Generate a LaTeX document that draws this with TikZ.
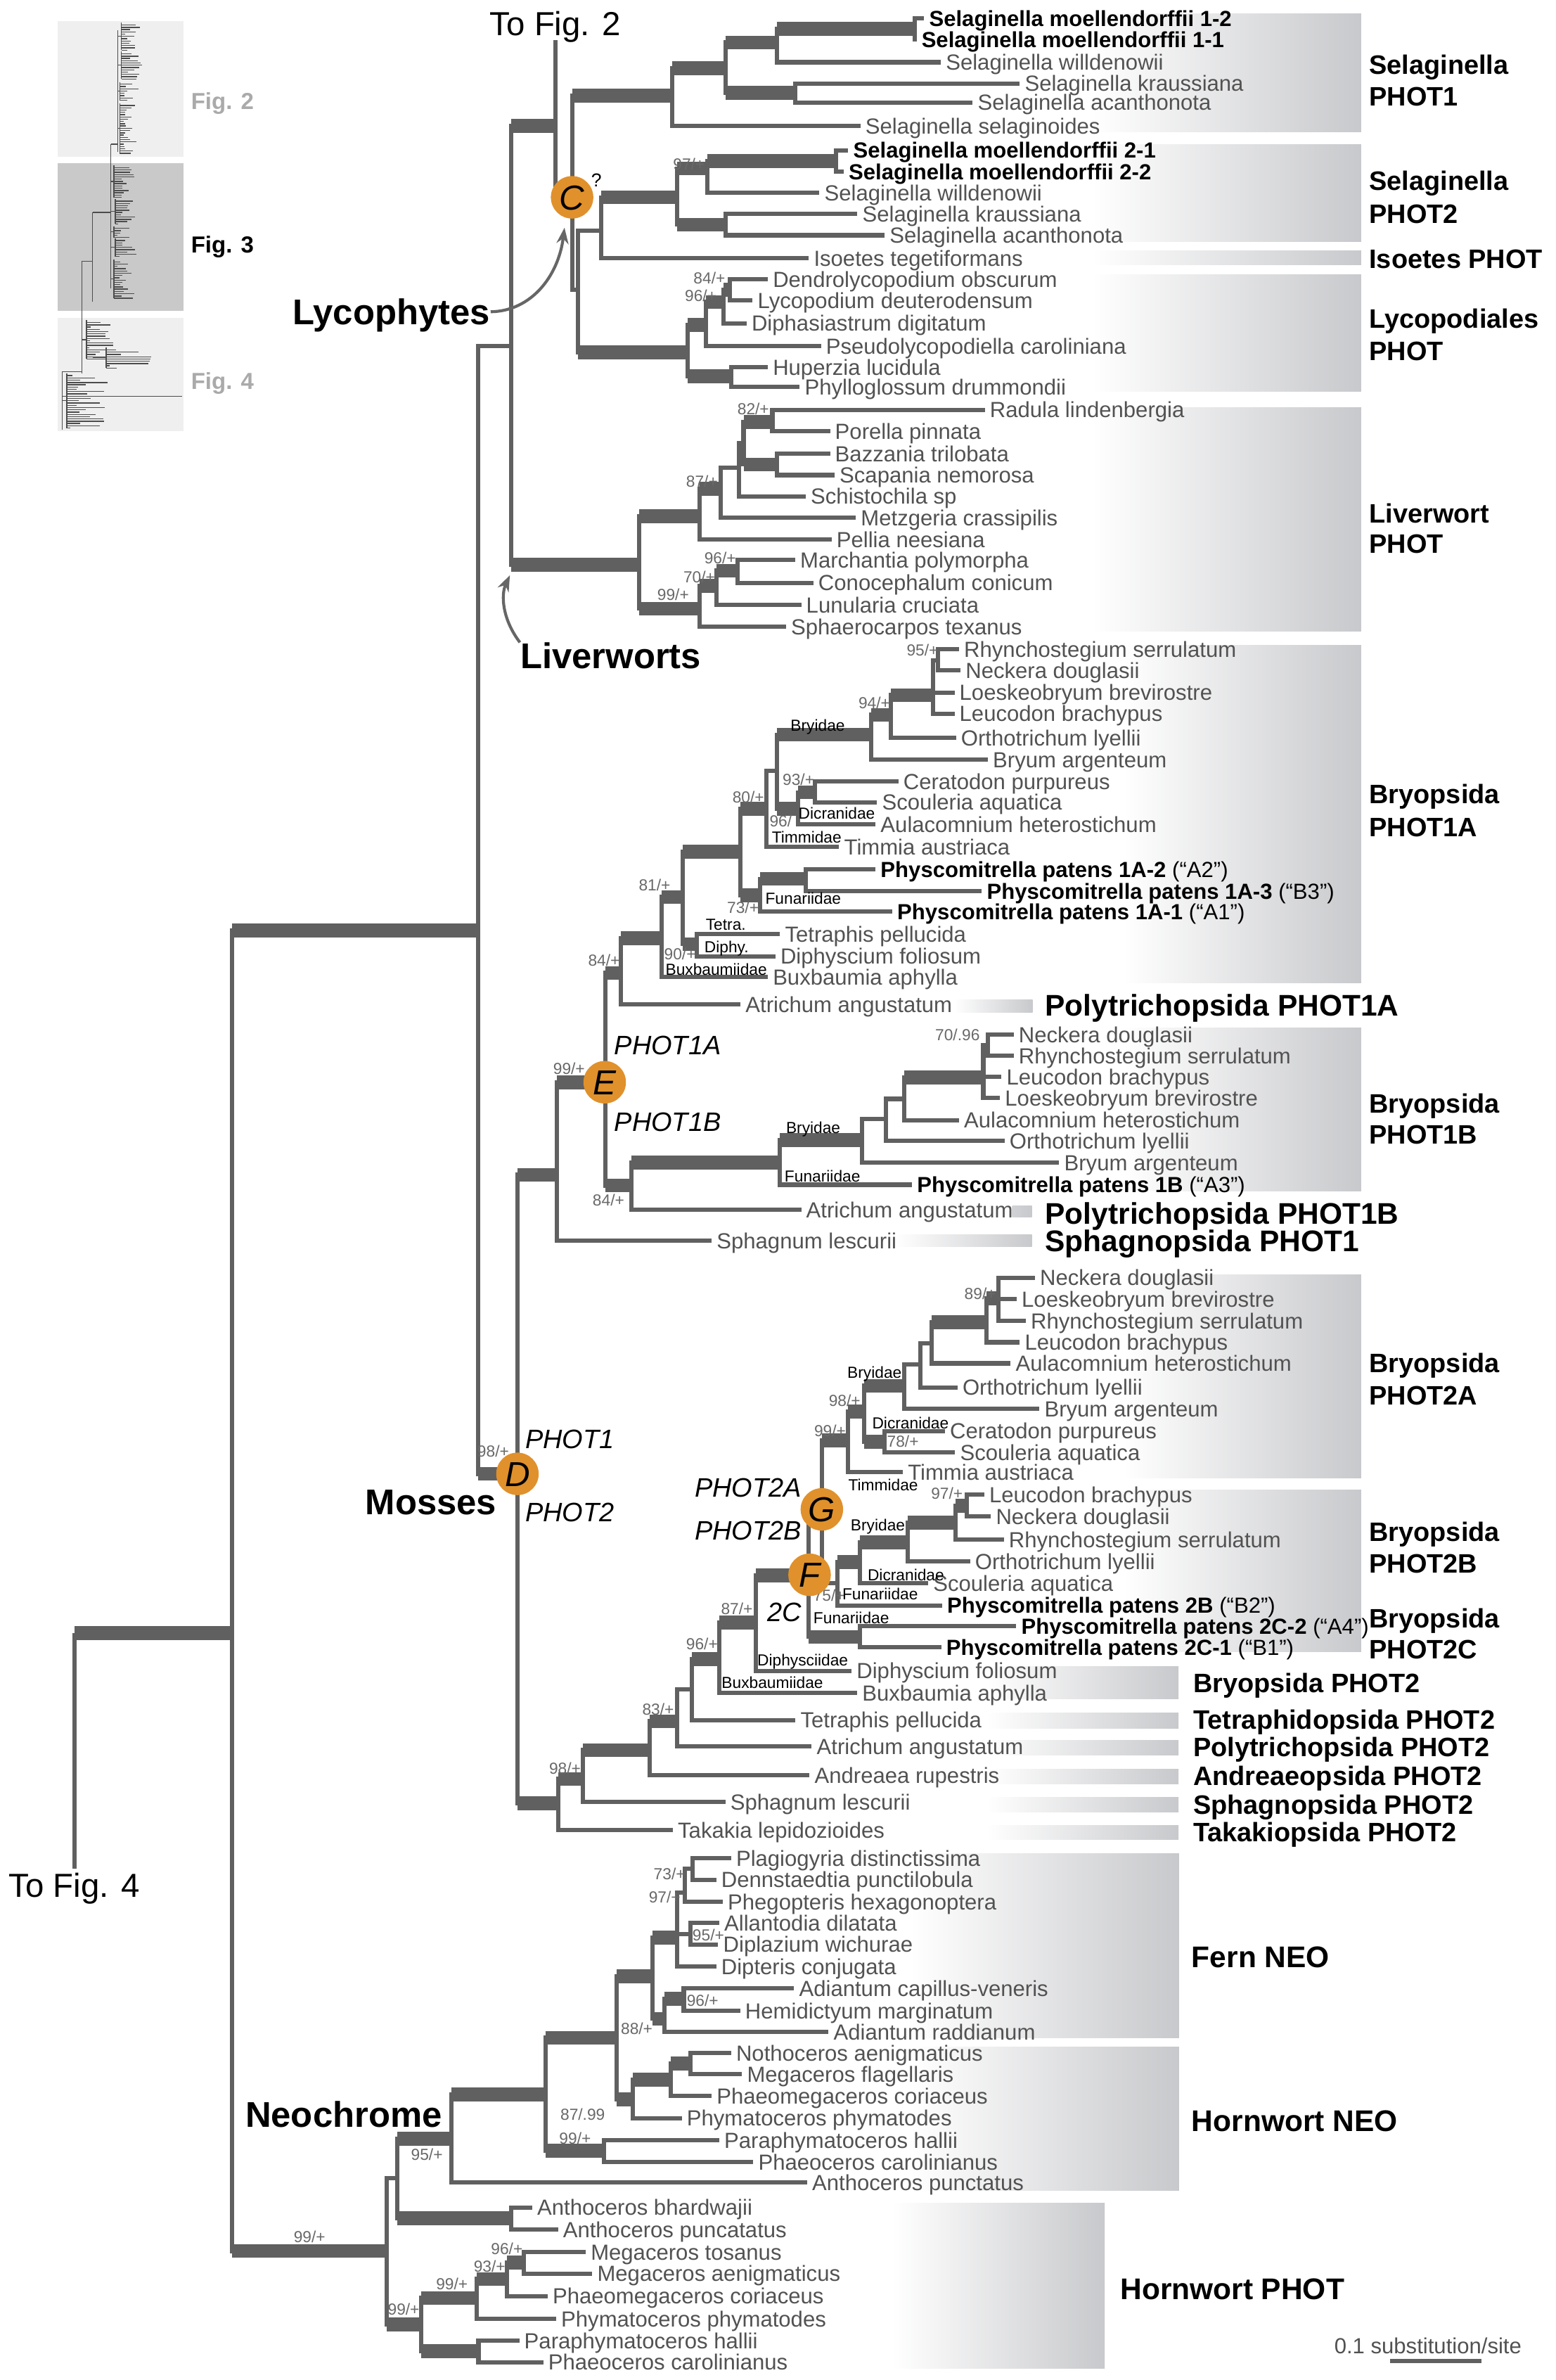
\documentclass[tikz,border=0pt]{standalone}
\usepackage{fontspec}
\setmainfont{Liberation Sans}
\usetikzlibrary{arrows.meta}
\definecolor{lc}{RGB}{96,96,96}
\definecolor{tc}{RGB}{82,82,82}
\definecolor{sc}{RGB}{105,105,105}
\definecolor{boxg}{RGB}{200,201,204}
\definecolor{orng}{RGB}{224,145,44}
\definecolor{thg}{RGB}{239,239,239}
\definecolor{thd}{RGB}{201,201,201}
\definecolor{figg}{RGB}{170,170,170}
\newcommand\tnode[5]{\coordinate (#1) at (#3,#4);\draw[br] (#2) |- (#1);\draw[#5] (#2 |- #1) -- (#1);}
\newcommand\tleaf[6]{\node[#5] (#1) at (#3,#4) {#6};\draw[br] (#2) |- (#1.west);}
\newcommand\sv[4]{\node[sup] (#1) at (#2,#3) {#4};}
\newcommand\cla[4]{\node[cl] (#1) at (#2,#3) {#4};}
\tikzset{
 br/.style={draw=lc, line width=1.6pt},
 thk/.style={draw=lc, line width=5.2pt},
 tx/.style={anchor=west, inner xsep=1.7pt, inner ysep=0pt, text=tc, font=\fontsize{8.2}{9.8}\selectfont, text height=5.9pt, text depth=0pt},
 txb/.style={tx, text=black, font=\fontsize{8.2}{9.8}\selectfont\bfseries},
 sup/.style={inner sep=0pt, text=sc, font=\fontsize{6}{7}\selectfont, text height=4.3pt, text depth=0pt},
 cl/.style={inner sep=0pt, text=black, font=\fontsize{6}{7}\selectfont, text height=4.3pt, text depth=0pt},
 grp/.style={anchor=west, inner sep=0pt, font=\fontsize{10}{12}\selectfont\bfseries, text height=7.2pt, text depth=0pt},
 grpl/.style={grp, font=\fontsize{11.2}{13}\selectfont\bfseries, text height=8pt},
 big/.style={inner sep=0pt, font=\fontsize{13.4}{15}\selectfont\bfseries, text height=9.6pt, text depth=0pt},
 ital/.style={inner sep=0pt, font=\fontsize{10}{12}\selectfont\itshape, text height=7.2pt, text depth=0pt},
 tofig/.style={inner xsep=0pt, inner ysep=1.5pt, font=\fontsize{12.5}{14}\selectfont, text height=9pt, text depth=0pt},
 circ/.style={circle, fill=orng, minimum size=0.56cm, inner sep=0pt, font=\fontsize{13}{14}\selectfont\itshape, text height=9.3pt, text depth=0pt},
 bx/.style={left color=white, right color=boxg},
 thm/.style={draw=black!70, line width=0.35pt},
 figl/.style={anchor=west, inner sep=0pt, font=\fontsize{8.7}{10}\selectfont\bfseries, text height=6.3pt, text depth=0pt},
 arr/.style={draw=black!60, line width=1.1pt, -{Stealth[length=6pt,width=4.5pt]}}
}
\begin{document}
\begin{tikzpicture}[x=0.02cm, y=-0.02cm]
\useasboundingbox (0,0) rectangle (1025,1568);
\fill[white] (0,0) rectangle (1025,1568);
% ---------- gradient boxes ----------
\shade[bx] (720,9.1) rectangle (897,86.8);
\shade[bx] (720,95) rectangle (897,159);
\shade[bx] (720,165.4) rectangle (897,174.5);
\shade[bx] (720,181) rectangle (897,257.7);
\shade[bx] (720,268.5) rectangle (897,416);
\shade[bx] (740,425) rectangle (897,647.6);
\shade[bx] (629,658.5) rectangle (680.5,667);
\shade[bx] (740,677) rectangle (897,784.5);
\begin{scope}
\clip (667,790) rectangle (681,806);
\shade[bx] (600,794.5) rectangle (680,802);
\end{scope}
\shade[bx] (590,813.5) rectangle (680,821.5);
\shade[bx] (740,839.7) rectangle (897,973.6);
\shade[bx] (740,981.6) rectangle (897,1088.4);
\shade[bx] (650,1097.7) rectangle (776.6,1119.3);
\shade[bx] (650,1128.5) rectangle (776.6,1138.5);
\shade[bx] (650,1146.5) rectangle (776.6,1156.5);
\shade[bx] (650,1165.5) rectangle (776.6,1175.5);
\shade[bx] (650,1184) rectangle (776.6,1194);
\shade[bx] (650,1202.5) rectangle (776.6,1212);
\shade[bx] (600,1221.2) rectangle (777,1342.5);
\shade[bx] (600,1348.7) rectangle (777,1443);
\shade[bx] (588,1451.5) rectangle (728,1560.5);
% ---------- thumbnail ----------
\fill[thg] (38,14) rectangle (121,103.5);
\fill[thd] (38,107.6) rectangle (121,205);
\fill[thg] (38,209.6) rectangle (121,284);
\pgfmathsetseed{11}
\draw[thm] (77.5,20) -- (77.5,100) (73,95) -- (73,190) (73,95) -- (77.5,95);
\draw[thm] (61,140) -- (61,199) (61,140) -- (73,140);
\draw[thm] (54,172) -- (54,246) (54,172) -- (61,172);
\draw[thm] (41,245) -- (41,283) (41,245) -- (54,245);
\foreach \ys/\n/\sx/\bx/\ml in {15/12/77.5/80/11, 34/12/77.5/80/13, 54/8/77.5/79/11, 68/22/77.5/79/10, 109/14/73/75/14, 131/11/73/76/12, 149/5/73/75/10, 157/8/73/76/14, 171/17/73/75/12, 211/17/54/57/20, 229/9/61/70/28, 246/24/41/44/28}{
 \pgfmathsetmacro{\ye}{\ys+1.5*\n}
 \pgfmathsetmacro{\ym}{\ys+0.75*\n}
 \draw[thm] (\bx,\ys) -- (\bx,\ye) (\sx,\ym) -- (\bx,\ym);
 \foreach \k in {1,...,\n}{
  \pgfmathsetmacro{\yy}{\ys+1.5*\k}
  \pgfmathsetmacro{\xe}{\bx+2+\ml*rnd}
  \draw[thm] (\bx,\yy) -- (\xe,\yy);}}
\draw[thm] (41,261) -- (120,261);
\node[figl, text=figg] (fig2) at (125.6,66.7) {Fig. 2};
\node[figl, text=black] (fig3) at (125.6,161) {Fig. 3};
\node[figl, text=figg] (fig4) at (125.6,251) {Fig. 4};
% ---------- backbone ----------
\coordinate (root) at (49,1076);
\node[tofig] (tf4) at (49,1242) {To Fig. 4};
\draw[br] (tf4.north) -- (root);
\tnode{A0}{root}{153}{1076}{thk}
\tnode{B0}{A0}{315}{613}{thk}
\tnode{B1}{B0}{337}{228}{br}
\tnode{N1}{B1}{366}{83}{thk}
\node[tofig] (tf2) at (366,15.7) {To Fig. 2};
\draw[br] (N1) -- (tf2.south);
% ---------- lycophytes ----------
\tnode{Cn}{N1}{377}{130}{br}
\tnode{sa}{Cn}{443}{63}{thk}
\tnode{sb}{sa}{478}{45}{thk}
\tnode{sc}{sb}{512}{28}{thk}
\tnode{sm1}{sc}{603}{19}{thk}
\tleaf{t1}{sm1}{609}{12}{txb}{Selaginella moellendorffii 1-2}
\tleaf{t2}{sm1}{604}{26}{txb}{Selaginella moellendorffii 1-1}
\tleaf{t3}{sc}{620}{41}{tx}{Selaginella willdenowii}
\tnode{sd}{sb}{524}{61}{thk}
\tleaf{t4}{sd}{672}{55}{tx}{Selaginella kraussiana}
\tleaf{t5}{sd}{641}{67.5}{tx}{Selaginella acanthonota}
\tleaf{t6}{sa}{567}{83}{tx}{Selaginella selaginoides}
\tnode{sX}{Cn}{381}{191}{br}
\tnode{sY}{sX}{396}{152}{br}
\tnode{se}{sY}{446}{130}{thk}
\tnode{sf}{se}{466}{111}{thk}
\tnode{sm2}{sf}{551}{106}{thk}
\tleaf{t7}{sm2}{559}{99}{txb}{Selaginella moellendorffii 2-1}
\tleaf{t8}{sm2}{556}{113}{txb}{Selaginella moellendorffii 2-2}
\tleaf{t9}{sf}{540}{127}{tx}{Selaginella willdenowii}
\tnode{sg}{se}{478}{148}{thk}
\tleaf{t10}{sg}{565}{141}{tx}{Selaginella kraussiana}
\tleaf{t11}{sg}{583}{155}{tx}{Selaginella acanthonota}
\tleaf{t12}{sY}{533}{170}{tx}{Isoetes tegetiformans}
\tnode{ly}{sX}{453}{232}{thk}
\tnode{lh}{ly}{465}{214}{thk}
\tnode{li}{lh}{477}{199}{thk}
\tnode{lj}{li}{481}{191}{thk}
\tleaf{t13}{lj}{506}{184}{tx}{Dendrolycopodium obscurum}
\tleaf{t14}{lj}{496}{198}{tx}{Lycopodium deuterodensum}
\tleaf{t15}{li}{492}{213}{tx}{Diphasiastrum digitatum}
\tleaf{t16}{lh}{541}{228}{tx}{Pseudolycopodiella caroliniana}
\tnode{lk}{ly}{482}{248}{thk}
\tleaf{t17}{lk}{506}{242}{tx}{Huperzia lucidula}
\tleaf{t18}{lk}{527}{255}{tx}{Phylloglossum drummondii}
\sv{s1}{454}{108}{97/+}
\sv{s2}{467.5}{183}{84/+}
\sv{s3}{461.8}{194.7}{96/+}
% ---------- liverworts ----------
\tnode{LV}{B1}{421}{372}{thk}
\tnode{lM}{LV}{461}{340}{thk}
\tnode{lO}{lM}{475}{322}{thk}
\tnode{lP}{lO}{487}{308}{br}
\tnode{lP2}{lP}{490}{292}{br}
\tnode{lQ}{lP2}{509}{278}{thk}
\tleaf{u1}{lQ}{649}{270}{tx}{Radula lindenbergia}
\tleaf{u2}{lQ}{547}{284}{tx}{Porella pinnata}
\tnode{lR}{lP2}{512}{306}{thk}
\tleaf{u3}{lR}{547}{299}{tx}{Bazzania trilobata}
\tleaf{u4}{lR}{550}{313}{tx}{Scapania nemorosa}
\tleaf{u5}{lP}{531}{327}{tx}{Schistochila sp}
\tleaf{u6}{lO}{564}{341}{tx}{Metzgeria crassipilis}
\tleaf{u7}{lM}{548}{355.5}{tx}{Pellia neesiana}
\tnode{lN}{LV}{461}{401}{thk}
\tnode{lS}{lN}{472}{386}{thk}
\tnode{lT}{lS}{486}{376}{thk}
\tleaf{u8}{lT}{524}{369}{tx}{Marchantia polymorpha}
\tleaf{u9}{lT}{536}{384}{tx}{Conocephalum conicum}
\tleaf{u10}{lS}{528}{398.6}{tx}{Lunularia cruciata}
\tleaf{u11}{lN}{518}{413}{tx}{Sphaerocarpos texanus}
\sv{s4}{496.4}{269.3}{82/+}
\sv{s5}{462.6}{317.3}{87/+}
\sv{s6}{474.6}{367.4}{96/+}
\sv{s7}{460.8}{380.1}{70/+}
\sv{s8}{443.6}{391.7}{99/+}
% ---------- mosses PHOT1 ----------
\tnode{Dn}{B0}{341}{971}{thk}
\tnode{P1}{Dn}{367}{774}{thk}
\tnode{En}{P1}{399}{713}{thk}
\tnode{ma}{En}{409}{641}{thk}
\tnode{mb}{ma}{436}{618}{thk}
\tnode{mg}{mb}{450}{591}{thk}
\tnode{me}{mg}{488}{561}{thk}
\tnode{mz}{me}{505}{533}{thk}
\tnode{mz2}{mz}{512}{508}{br}
\tnode{mi}{mz2}{574}{484}{thk}
\tnode{mmu}{mi}{587}{471}{thk}
\tnode{mnu}{mmu}{615}{458}{thk}
\tnode{mxi}{mnu}{618}{435}{br}
\tleaf{v1}{mxi}{632}{427.6}{tx}{Rhynchostegium serrulatum}
\tleaf{v2}{mxi}{633}{441.7}{tx}{Neckera douglasii}
\tleaf{v3}{mnu}{629}{456.3}{tx}{Loeskeobryum brevirostre}
\tleaf{v4}{mnu}{629}{470.2}{tx}{Leucodon brachypus}
\tleaf{v5}{mmu}{630}{486}{tx}{Orthotrichum lyellii}
\tleaf{v6}{mi}{651}{500.4}{tx}{Bryum argenteum}
\tnode{mk}{mz2}{526}{533}{thk}
\tnode{ml}{mk}{537}{522}{thk}
\tleaf{v7}{ml}{592}{514.8}{tx}{Ceratodon purpureus}
\tleaf{v8}{ml}{578}{528.5}{tx}{Scouleria aquatica}
\tleaf{v9}{mk}{577}{543}{tx}{Aulacomnium heterostichum}
\tleaf{v10}{mz}{553}{557.8}{tx}{Timmia austriaca}
\tnode{mh}{me}{501}{590}{thk}
\tnode{mth}{mh}{531}{579}{thk}
\tleaf{v11}{mth}{577}{572.7}{txb}{Physcomitrella patens 1A-2 {\mdseries (“A2”)}}
\tleaf{v12}{mth}{647}{587}{txb}{Physcomitrella patens 1A-3 {\mdseries (“B3”)}}
\tleaf{v13}{mh}{588}{600.5}{txb}{Physcomitrella patens 1A-1 {\mdseries (“A1”)}}
\tnode{mtd}{mg}{459}{622}{thk}
\tleaf{v14}{mtd}{514}{615.4}{tx}{Tetraphis pellucida}
\tleaf{v15}{mtd}{511}{630}{tx}{Diphyscium foliosum}
\tleaf{v16}{mb}{506}{643.8}{tx}{Buxbaumia aphylla}
\tleaf{v17}{ma}{488}{661.7}{tx}{Atrichum angustatum}
\sv{s9}{607.9}{428.5}{95/+}
\sv{s10}{576.2}{463.2}{94/+}
\sv{s11}{526.2}{513.7}{93/+}
\sv{s12}{493.1}{525.2}{80/+}
\sv{s13}{514.5}{541}{96/}
\sv{s14}{431.4}{583.1}{81/+}
\sv{s15}{489.6}{598}{73/+}
\sv{s16}{448.1}{628.6}{90/+}
\sv{s17}{398}{632.7}{84/+}
\cla{c1}{538.9}{477.8}{Bryidae}
\cla{c2}{551.4}{536}{Dicranidae}
\cla{c3}{531.6}{551.7}{Timmidae}
\cla{c4}{529.3}{591.9}{Funariidae}
\cla{c5}{478.3}{608.8}{Tetra.}
\cla{c6}{478.8}{623.7}{Diphy.}
\cla{c7}{472}{638.5}{Buxbaumiidae}
% PHOT1B
\tnode{mo}{En}{416}{781}{thk}
\tnode{mpi}{mo}{514}{766}{thk}
\tnode{mrho}{mpi}{568}{751}{thk}
\tnode{msig}{mrho}{584}{737}{br}
\tnode{mtau}{msig}{596}{724}{br}
\tnode{mups}{mtau}{648}{710}{thk}
\tnode{mups2}{mups}{651}{688.6}{br}
\tleaf{w1}{mups2}{668}{681.7}{tx}{Neckera douglasii}
\tleaf{w2}{mups2}{668}{695.6}{tx}{Rhynchostegium serrulatum}
\tleaf{w3}{mups}{660}{709.5}{tx}{Leucodon brachypus}
\tleaf{w4}{mups}{659}{723.4}{tx}{Loeskeobryum brevirostre}
\tleaf{w5}{mtau}{632}{738}{tx}{Aulacomnium heterostichum}
\tleaf{w6}{msig}{662}{751.6}{tx}{Orthotrichum lyellii}
\tleaf{w7}{mrho}{698}{766}{tx}{Bryum argenteum}
\tleaf{w8}{mpi}{601}{780.5}{txb}{Physcomitrella patens 1B {\mdseries (“A3”)}}
\tleaf{w9}{mo}{528}{797}{tx}{Atrichum angustatum}
\tleaf{w10}{P1}{469}{817.5}{tx}{Sphagnum lescurii}
\sv{s18}{631}{681.7}{70/.96}
\sv{s19}{375}{704}{99/+}
\sv{s20}{401}{790.5}{84/+}
\cla{c8}{535.9}{742.7}{Bryidae}
\cla{c9}{542}{775}{Funariidae}
% ---------- mosses PHOT2 ----------
\tnode{P2}{Dn}{368}{1188}{thk}
\tnode{qS}{P2}{384}{1172}{thk}
\tnode{qA}{qS}{428}{1153}{thk}
\tnode{q83}{qA}{446}{1134}{thk}
\tnode{qT}{q83}{456}{1113}{br}
\tnode{q96}{qT}{474}{1093}{thk}
\tnode{q87}{q96}{498}{1069}{thk}
\tnode{Fn}{q87}{533}{1038}{thk}
\tnode{Gn}{Fn}{541.6}{996}{br}
\tnode{r99}{Gn}{558.6}{949}{thk}
\tnode{r98}{r99}{569.6}{930}{thk}
\tnode{rB}{r98}{596}{913}{thk}
\tnode{rX}{rB}{606.5}{899}{br}
\tnode{rW}{rX}{614}{885}{br}
\tnode{rV}{rW}{650}{871}{thk}
\tnode{r89}{rV}{658}{855.5}{thk}
\tleaf{x1}{r89}{682}{841.7}{tx}{Neckera douglasii}
\tleaf{x2}{r89}{670}{856}{tx}{Loeskeobryum brevirostre}
\tleaf{x3}{r89}{676}{870.3}{tx}{Rhynchostegium serrulatum}
\tleaf{x4}{rV}{672}{884.3}{tx}{Leucodon brachypus}
\tleaf{x5}{rW}{666}{898.2}{tx}{Aulacomnium heterostichum}
\tleaf{x6}{rX}{631}{914.1}{tx}{Orthotrichum lyellii}
\tleaf{x7}{rB}{685}{928.2}{tx}{Bryum argenteum}
\tnode{rD}{r98}{583}{950}{thk}
\tleaf{x8}{rD}{622.7}{942.8}{tx}{Ceratodon purpureus}
\tleaf{x9}{rD}{629.4}{956.9}{tx}{Scouleria aquatica}
\tleaf{x10}{r99}{595}{970}{tx}{Timmia austriaca}
\tnode{r2B}{Gn}{552}{1043}{br}
\tnode{r566}{r2B}{566.7}{1029}{thk}
\tnode{rB2}{r566}{598}{1016}{thk}
\tnode{r629}{rB2}{629.5}{1003}{thk}
\tnode{r97}{r629}{637}{992}{thk}
\tleaf{y1}{r97}{648.6}{984.8}{tx}{Leucodon brachypus}
\tleaf{y2}{r97}{653}{999.2}{tx}{Neckera douglasii}
\tleaf{y3}{r629}{661.5}{1014.3}{tx}{Rhynchostegium serrulatum}
\tleaf{y4}{rB2}{639.3}{1028.7}{tx}{Orthotrichum lyellii}
\tleaf{y5}{r566}{611.7}{1043}{tx}{Scouleria aquatica}
\tleaf{y6}{r2B}{620.9}{1057.7}{txb}{Physcomitrella patens 2B {\mdseries (“B2”)}}
\tnode{r2C}{Fn}{566.5}{1078.4}{thk}
\tleaf{y7}{r2C}{669.7}{1071.4}{txb}{Physcomitrella patens 2C-2 {\mdseries (“A4”)}}
\tleaf{y8}{r2C}{620.3}{1085.3}{txb}{Physcomitrella patens 2C-1 {\mdseries (“B1”)}}
\tleaf{y9}{q87}{561.2}{1100.8}{tx}{Diphyscium foliosum}
\tleaf{y10}{q96}{564.9}{1115.4}{tx}{Buxbaumia aphylla}
\tleaf{y11}{qT}{524.2}{1133.2}{tx}{Tetraphis pellucida}
\tleaf{y12}{q83}{534.9}{1150.5}{tx}{Atrichum angustatum}
\tleaf{y13}{qA}{533.5}{1169.5}{tx}{Andreaea rupestris}
\tleaf{y14}{qS}{478}{1187.2}{tx}{Sphagnum lescurii}
\tleaf{y15}{P2}{443.4}{1205.8}{tx}{Takakia lepidozioides}
\sv{s21}{325}{956}{98/+}
\sv{s22}{646}{852.4}{89/+}
\sv{s23}{556.6}{922.6}{98/+}
\sv{s24}{547}{942.5}{99/+}
\sv{s25}{595}{949.7}{78/+}
\sv{s26}{624}{984}{97/+}
\sv{s27}{546.4}{1051}{75/+}
\sv{s28}{485.6}{1060}{87/+}
\sv{s29}{462.6}{1083}{96/+}
\sv{s30}{433.7}{1126.3}{83/+}
\sv{s31}{372.3}{1164.9}{98/+}
\cla{c10}{576.3}{904.3}{Bryidae}
\cla{c11}{600}{937.7}{Dicranidae}
\cla{c12}{582}{978.4}{Timmidae}
\cla{c13}{578.5}{1004.7}{Bryidae}
\cla{c14}{597}{1037.4}{Dicranidae}
\cla{c15}{580}{1050}{Funariidae}
\cla{c16}{561}{1066}{Funariidae}
\cla{c17}{529}{1093.8}{Diphysciidae}
\cla{c18}{509}{1108.5}{Buxbaumiidae}
% ---------- neochrome + hornworts ----------
\tnode{HH}{A0}{254.8}{1483}{thk}
\tnode{NB}{HH}{262}{1435}{br}
\tnode{NEO}{NB}{297.4}{1409}{thk}
\tnode{n359}{NEO}{359.4}{1380}{thk}
\tnode{nFH}{n359}{406.5}{1342.5}{thk}
\tnode{nF}{nFH}{430}{1302}{thk}
\tnode{n446}{nF}{446.3}{1276.5}{thk}
\tnode{n97}{n446}{451.4}{1247}{br}
\tnode{n73}{n97}{456.6}{1231}{br}
\tleaf{z1}{n73}{481.8}{1224.3}{tx}{Plagiogyria distinctissima}
\tleaf{z2}{n73}{472}{1238.4}{tx}{Dennstaedtia punctilobula}
\tleaf{z3}{n97}{476.3}{1253.1}{tx}{Phegopteris hexagonoptera}
\tnode{n95}{n446}{455}{1274}{br}
\tleaf{z4}{n95}{474}{1267}{tx}{Allantodia dilatata}
\tleaf{z5}{n95}{473.3}{1281}{tx}{Diplazium wichurae}
\tleaf{z6}{n446}{472}{1295.7}{tx}{Dipteris conjugata}
\tnode{n88}{nF}{437.7}{1330}{thk}
\tnode{n96}{n88}{450.6}{1317}{thk}
\tleaf{z7}{n96}{523.3}{1310}{tx}{Adiantum capillus-veneris}
\tleaf{z8}{n96}{487.8}{1324.9}{tx}{Hemidictyum marginatum}
\tleaf{z9}{n88}{546}{1338.7}{tx}{Adiantum raddianum}
\tnode{nH}{nFH}{417}{1383}{thk}
\tnode{n442}{nH}{442}{1370}{thk}
\tnode{n455}{n442}{455}{1359.5}{thk}
\tleaf{z10}{n455}{481.8}{1352.5}{tx}{Nothoceros aenigmaticus}
\tleaf{z11}{n455}{489}{1366.4}{tx}{Megaceros flagellaris}
\tleaf{z12}{n442}{469}{1381}{tx}{Phaeomegaceros coriaceus}
\tleaf{z13}{nH}{449.3}{1395.5}{tx}{Phymatoceros phymatodes}
\tnode{n99}{n359}{398}{1417}{thk}
\tleaf{z14}{n99}{474}{1410.1}{tx}{Paraphymatoceros hallii}
\tleaf{z15}{n99}{496.4}{1424.3}{tx}{Phaeoceros carolinianus}
\tleaf{z16}{NEO}{531.9}{1437.8}{tx}{Anthoceros punctatus}
\tnode{nbh}{NB}{336.8}{1461.5}{thk}
\tleaf{h1}{nbh}{350.7}{1454.3}{tx}{Anthoceros bhardwajii}
\tleaf{h2}{nbh}{367.7}{1468.8}{tx}{Anthoceros puncatatus}
\tnode{h99}{HH}{277.4}{1531.5}{thk}
\tnode{h314}{h99}{314}{1514}{thk}
\tnode{h334}{h314}{334}{1501.5}{thk}
\tnode{h345}{h334}{345}{1490.7}{thk}
\tleaf{h3}{h345}{386}{1483.7}{tx}{Megaceros tosanus}
\tleaf{h4}{h345}{390.3}{1497.8}{tx}{Megaceros aenigmaticus}
\tleaf{h5}{h334}{360.9}{1512.7}{tx}{Phaeomegaceros coriaceus}
\tleaf{h6}{h314}{366.5}{1527.6}{tx}{Phymatoceros phymatodes}
\tnode{hPP}{h99}{315.3}{1549}{thk}
\tleaf{h7}{hPP}{342.2}{1542.2}{tx}{Paraphymatoceros hallii}
\tleaf{h8}{hPP}{358}{1556.3}{tx}{Phaeoceros carolinianus}
\sv{s32}{441.2}{1234.3}{73/+}
\sv{s33}{438}{1249.6}{97/+}
\sv{s34}{466.8}{1275}{95/+}
\sv{s35}{463}{1318}{96/+}
\sv{s36}{419.6}{1336.4}{88/+}
\sv{s37}{384}{1393.2}{87/.99}
\sv{s38}{379}{1408.6}{99/+}
\sv{s39}{281.3}{1419.3}{95/+}
\sv{s40}{204}{1473.5}{99/+}
\sv{s41}{334}{1481.3}{96/+}
\sv{s42}{322.6}{1493.1}{93/+}
\sv{s43}{297.8}{1504.8}{99/+}
\sv{s44}{266}{1521.3}{99/+}
% ---------- group labels ----------
\node[grp] (g1) at (902,42.7) {Selaginella};
\node[grp] (g1b) at (902,63.5) {PHOT1};
\node[grp] (g2) at (902,119) {Selaginella};
\node[grp] (g2b) at (902,140.6) {PHOT2};
\node[grp] (g3) at (902,170.4) {Isoetes PHOT};
\node[grp] (g4) at (902,210) {Lycopodiales};
\node[grp] (g4b) at (902,231) {PHOT};
\node[grp] (g5) at (902,338) {Liverwort};
\node[grp] (g5b) at (902,358) {PHOT};
\node[grp] (g6) at (902,523) {Bryopsida};
\node[grp] (g6b) at (902,545) {PHOT1A};
\node[grpl] (g7) at (688.5,662.5) {Polytrichopsida PHOT1A};
\node[grp] (g8) at (902,727) {Bryopsida};
\node[grp] (g8b) at (902,747.5) {PHOT1B};
\node[grpl] (g9) at (688.5,799.5) {Polytrichopsida PHOT1B};
\node[grpl] (g10) at (688.5,817.5) {Sphagnopsida PHOT1};
\node[grp] (g11) at (902,898) {Bryopsida};
\node[grp] (g11b) at (902,919) {PHOT2A};
\node[grp] (g12) at (902,1009) {Bryopsida};
\node[grp] (g12b) at (902,1030) {PHOT2B};
\node[grp] (g13) at (902,1066) {Bryopsida};
\node[grp] (g13b) at (902,1086.5) {PHOT2C};
\node[grp] (g14) at (786,1108.5) {Bryopsida PHOT2};
\node[grp] (g15) at (786,1133) {Tetraphidopsida PHOT2};
\node[grp] (g16) at (786,1151) {Polytrichopsida PHOT2};
\node[grp] (g17) at (786,1170) {Andreaeopsida PHOT2};
\node[grp] (g18) at (786,1189) {Sphagnopsida PHOT2};
\node[grp] (g19) at (786,1207) {Takakiopsida PHOT2};
\node[grpl] (g20) at (785,1289) {Fern NEO};
\node[grpl] (g21) at (785,1397) {Hornwort NEO};
\node[grpl] (g22) at (738,1508) {Hornwort PHOT};
% ---------- big labels, italics ----------
\node[big] (lyc) at (258,205.4) {Lycophytes};
\node[big] (liv) at (402.5,432) {Liverworts};
\node[big] (mos) at (284,989.5) {Mosses};
\node[big] (neo) at (226.5,1393) {Neochrome};
\node[ital] (i1) at (440,688.6) {PHOT1A};
\node[ital] (i2) at (440,738.8) {PHOT1B};
\node[ital] (i3) at (375.5,948) {PHOT1};
\node[ital] (i4) at (375.5,996) {PHOT2};
\node[ital] (i5) at (493,980) {PHOT2A};
\node[ital] (i6) at (493,1008) {PHOT2B};
\node[ital] (i7) at (517,1062) {2C};
% ---------- circles ----------
\node[circ] (Cc) at (377,130) {C};
\node[inner sep=0pt, font=\fontsize{7}{8}\selectfont] (qm) at (393,118.5) {?};
\node[circ] (Dc) at (341,971) {D};
\node[circ] (Ec) at (398.5,713) {E};
\node[circ] (Fc) at (533.5,1037.5) {F};
\node[circ] (Gc) at (541.6,994.4) {G};
% ---------- arrows ----------
\coordinate (lycend) at (372,150);
\draw[arr] (lyc.east) .. controls (350,205) and (368,182) .. (lycend);
\coordinate (livend) at (336,379);
\draw[arr] (liv.north west) .. controls (331,408) and (330,392) .. (livend);
% ---------- scale bar ----------
\coordinate (sb1) at (916,1555.4);
\coordinate (sb2) at (976.3,1555.4);
\draw[br] (sb1) -- (sb2);
\node[inner sep=0pt, text=tc, font=\fontsize{8.2}{9.8}\selectfont, text height=5.9pt, text depth=0pt] (sbl) at (941,1545.6) {0.1 substitution/site};
\end{tikzpicture}
\end{document}
